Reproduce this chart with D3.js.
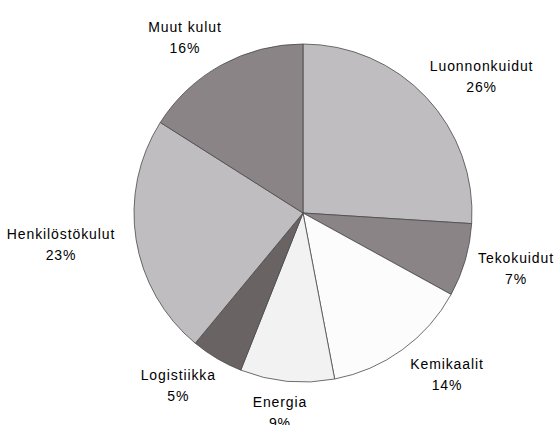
<!DOCTYPE html>
<html>
<head>
<meta charset="utf-8">
<script src="https://cdn.jsdelivr.net/npm/d3@7"></script>
<style>
	body { margin: 0; background: #fff; }
	.pie-label { font-family: "Liberation Sans", Arial, sans-serif; font-size: 14px; letter-spacing: 0.9px; fill: #000; }
</style>
</head>
<body>
<div id="chart"></div>
<script>
////////////////////////////////////////////////////////////
//////////////////////// Data //////////////////////////////
////////////////////////////////////////////////////////////

var categories = ["Luonnonkuidut", "Tekokuidut", "Kemikaalit", "Energia", "Logistiikka", "Henkilöstökulut", "Muut kulut"];
var shares = [26, 7, 14, 9, 5, 23, 16];
var sliceColors = ["#c0bdc1", "#8a8487", "#fcfcfc", "#f2f2f2", "#6a6364", "#c0bdc1", "#8a8487"];

////////////////////////////////////////////////////////////
//////////////////////// Setup /////////////////////////////
////////////////////////////////////////////////////////////

var width = 556,
	height = 425,
	radius = 169,
	cx = 303,
	cy = 213;

var svg = d3.select("#chart").append("svg")
	.attr("width", width)
	.attr("height", height)
	.append("g")
	.attr("transform", "translate(" + cx + "," + cy + ")");

var data = categories.map(function(c, i) { return {name: c, value: shares[i], color: sliceColors[i]}; });

var pie = d3.pie()
	.sort(null)
	.value(function(d) { return d.value; });

var arc = d3.arc()
	.innerRadius(0)
	.outerRadius(radius);

var slices = pie(data);

////////////////////////////////////////////////////////////
//////////////////////// Slices ////////////////////////////
////////////////////////////////////////////////////////////

svg.selectAll(".slice")
	.data(slices)
	.enter().append("path")
	.attr("class", "slice")
	.attr("d", arc)
	.style("fill", function(d) { return d.data.color; })
	.style("stroke", "#4a4a4a")
	.style("stroke-width", 0.8);

////////////////////////////////////////////////////////////
//////////////////////// Labels ////////////////////////////
////////////////////////////////////////////////////////////

//Label boxes sit on an ellipse around the pie, kept inside the picture
var labelRx = 245,
	labelRy = 200,
	edgePad = 2;

var labels = svg.selectAll(".pie-label")
	.data(slices)
	.enter().append("text")
	.attr("class", "pie-label")
	.attr("text-anchor", "middle");

labels.append("tspan")
	.attr("x", 0)
	.attr("y", -5.5)
	.text(function(d) { return d.data.name; });

labels.append("tspan")
	.attr("x", 0)
	.attr("y", 15.5)
	.text(function(d) { return d.data.value + "%"; });

labels.attr("transform", function(d) {
	var a = (d.startAngle + d.endAngle) / 2,
		half = this.getBBox().width / 2,
		x = labelRx * Math.sin(a),
		y = -labelRy * Math.cos(a);
	x = Math.min(x, width - cx - edgePad - half);
	x = Math.max(x, -cx + edgePad + half);
	return "translate(" + x + "," + y + ")";
});
</script>
</body>
</html>
